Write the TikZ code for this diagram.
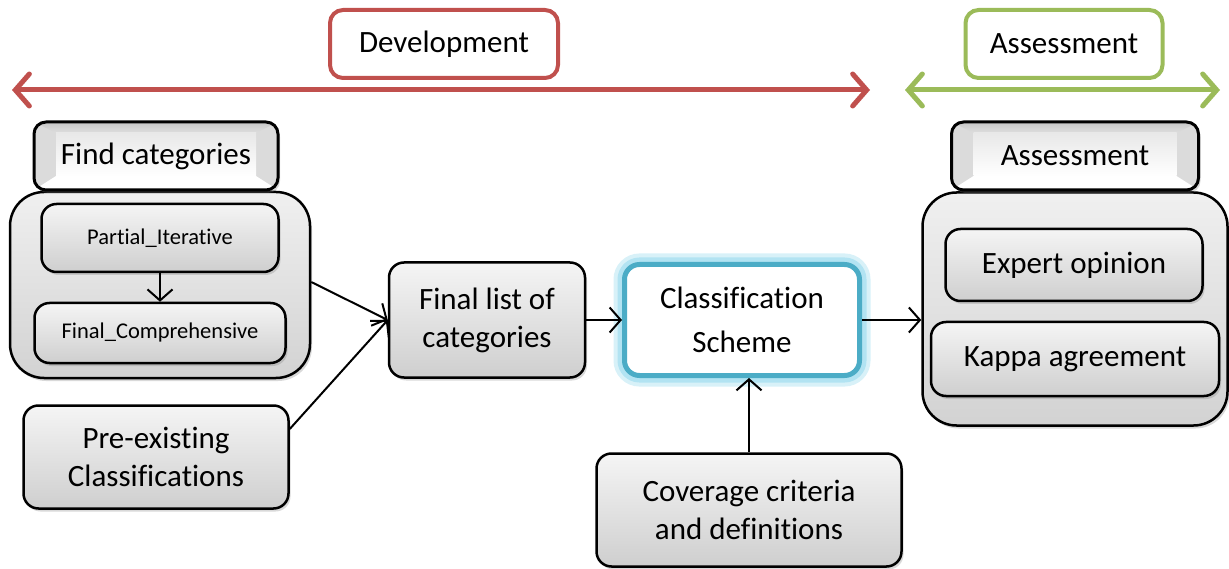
\documentclass[tikz,border=0pt]{standalone}
\usepackage{fontspec}
\setmainfont{Carlito}[Ligatures=NoCommon]
\usetikzlibrary{arrows.meta,shadows,calc}
\definecolor{devred}{HTML}{C0504D}
\definecolor{assgreen}{HTML}{9BBB59}
\definecolor{schblue}{HTML}{4BACC6}
\definecolor{glowblue}{HTML}{A8E0F0}
\newcommand\mybigfont{\fontsize{31}{38}\selectfont}
\newcommand\mysmallfont{\fontsize{22.5}{27}\selectfont}
\tikzset{
  phase/.style={draw=#1, line width=4pt, rounded corners=13pt, fill=white, inner sep=0pt, font=\mybigfont},
  phasearrow/.style={draw=#1, line width=5pt, {Straight Barb[length=14pt,width=32pt,line cap=round]}-{Straight Barb[length=14pt,width=32pt,line cap=round]}},
  greybox/.style={draw=black, line width=2.5pt, rounded corners=15pt, top color=gray!8, bottom color=gray!38,
     drop shadow={shadow xshift=2pt, shadow yshift=-3pt, opacity=0.3}, inner sep=0pt, align=center, font=\mybigfont},
  container/.style={greybox, rounded corners=34pt, top color=gray!12, bottom color=gray!35},
  tabbox/.style={draw=black, line width=3pt, rounded corners=12pt, fill=gray!28, inner sep=0pt, font=\mybigfont,
     drop shadow={shadow xshift=2pt, shadow yshift=-3pt, opacity=0.3},
     path picture={
       \coordinate (tNW) at (path picture bounding box.north west);
       \coordinate (tNE) at (path picture bounding box.north east);
       \coordinate (tSW) at (path picture bounding box.south west);
       \coordinate (tSE) at (path picture bounding box.south east);
       \shade[sharp corners, top color=gray!45, bottom color=gray!25] (tNW) -- (tNE) -- ([shift={(-22pt,-11pt)}]tNE) -- ([shift={(22pt,-11pt)}]tNW) -- cycle;
       \fill[sharp corners, white] (tSW) -- (tSE) -- ([shift={(-22pt,14pt)}]tSE) -- ([shift={(22pt,14pt)}]tSW) -- cycle;
       \shade[sharp corners, top color=gray!18, bottom color=white] ([shift={(22pt,-11pt)}]tNW) rectangle ([shift={(-22pt,14pt)}]tSE);
     }},
  conn/.style={draw=black, line width=2pt, -{Straight Barb[length=11pt,width=25pt]}},
}
\begin{document}
\begin{tikzpicture}[x=1pt, y=-1pt]
\useasboundingbox (0,0) rectangle (1229,569);

% phase headers
\node[phase=devred, minimum width=228pt, minimum height=68pt] (dev) at (444,44) {Development};
\node[phase=assgreen, minimum width=197pt, minimum height=68pt] (ass) at (1064,44) {Assessment};
\coordinate (devL) at (12,90);
\coordinate (devR) at (870,90);
\coordinate (assL) at (905,90);
\coordinate (assR) at (1220,90);
\draw[phasearrow=devred] (devL) -- (devR);
\draw[phasearrow=assgreen] (assL) -- (assR);

% left group
\node[container, minimum width=300pt, minimum height=186pt] (fc) at (160,285) {};
\node[tabbox, minimum width=244pt, minimum height=68pt] (find) at (156,156) {Find categories};
\node[greybox, font=\mysmallfont, minimum width=237pt, minimum height=68pt] (pi) at (160,238) {Partial\_Iterative};
\node[greybox, font=\mysmallfont, minimum width=251pt, minimum height=60pt] (fcomp) at (160,333) {Final\_Comprehensive};
\node[greybox, minimum width=265pt, minimum height=103pt] (pre) at (156,457) {Pre-existing\\Classifications};

% middle
\node[greybox, minimum width=196pt, minimum height=115pt] (fl) at (487,320) {Final list of\\categories};
\node[draw=schblue, line width=5pt, rounded corners=15pt, fill=white, inner sep=0pt, align=center,
      font=\fontsize{31}{44}\selectfont,
      preaction={draw=glowblue, line width=22pt, opacity=0.45},
      preaction={draw=glowblue, line width=14pt, opacity=0.8},
      minimum width=235pt, minimum height=111pt] (sch) at (742,320) {Classification\\Scheme};
\node[greybox, minimum width=305pt, minimum height=113pt] (cov) at (749,510) {Coverage criteria\\and definitions};

% right group
\node[container, minimum width=305pt, minimum height=233pt] (ac) at (1075,309) {};
\node[tabbox, minimum width=247pt, minimum height=68pt] (atab) at (1075,156) {Assessment};
\node[greybox, minimum width=257pt, minimum height=72pt] (exp) at (1074,265) {Expert opinion};
\node[greybox, minimum width=288pt, minimum height=74pt] (kap) at (1075,359) {Kappa agreement};

% connectors
\draw[conn] (pi.south) -- (fcomp.north);
\draw[conn] ([yshift=3pt]fc.east) -- (fl.west);
\draw[conn] ([yshift=28pt]pre.east) -- (fl.west);
\draw[conn] (fl.east) -- (sch.west);
\draw[conn] (sch.east) -- (sch.east -| ac.west);
\draw[conn] (cov.north) -- (cov.north |- sch.south);
\end{tikzpicture}
\end{document}
